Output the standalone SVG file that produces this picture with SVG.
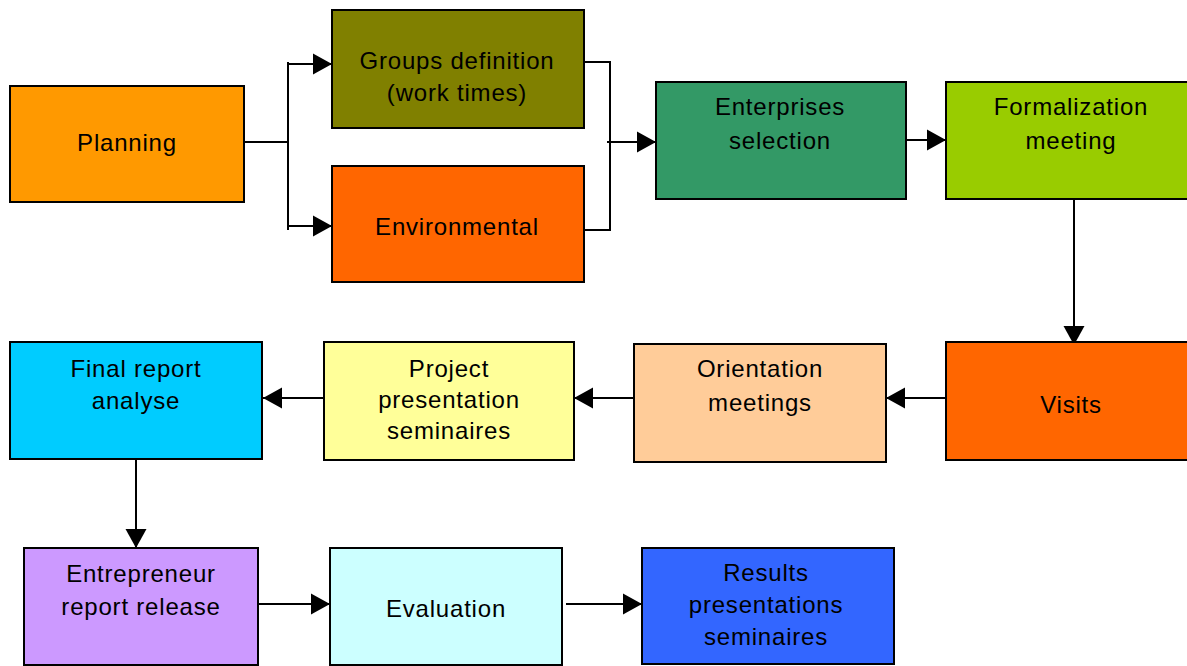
<svg xmlns="http://www.w3.org/2000/svg" width="1187" height="666" viewBox="0 0 1187 666">
  <style>
    .box { stroke: #000; stroke-width: 2; }
    .lbl { font-family: "Liberation Sans", Arial, sans-serif; font-size: 24px; letter-spacing: 0.8px; fill: #000; text-anchor: middle; }
    .wire { fill: none; stroke: #000; stroke-width: 2; }
  </style>
  <defs>
    <marker id="arrow" markerUnits="userSpaceOnUse" markerWidth="20" markerHeight="22" refX="19" refY="11" orient="auto">
      <polygon points="0,0.5 19,11 0,21.5" fill="#000"/>
    </marker>
  </defs>
  <rect width="1187" height="666" fill="#fff"/>

  <g id="connectors">
    <!-- Planning fans out to the two parallel tasks -->
    <polyline class="wire" points="240,142 288,142"/>
    <polyline class="wire" points="288,62 288,230"/>
    <line class="wire" x1="288" y1="64" x2="332" y2="64" marker-end="url(#arrow)"/>
    <line class="wire" x1="288" y1="226" x2="332" y2="226" marker-end="url(#arrow)"/>
    <!-- parallel tasks join into selection -->
    <polyline class="wire" points="584,62 610,62 610,230 584,230"/>
    <line class="wire" x1="607" y1="142" x2="656" y2="142" marker-end="url(#arrow)"/>
    <line class="wire" x1="906" y1="140" x2="946" y2="140" marker-end="url(#arrow)"/>
    <line class="wire" x1="1074" y1="193" x2="1074" y2="345" marker-end="url(#arrow)"/>
    <line class="wire" x1="946" y1="398" x2="886" y2="398" marker-end="url(#arrow)"/>
    <line class="wire" x1="634" y1="398" x2="574" y2="398" marker-end="url(#arrow)"/>
    <line class="wire" x1="324" y1="398" x2="263" y2="398" marker-end="url(#arrow)"/>
    <line class="wire" x1="136" y1="455" x2="136" y2="548" marker-end="url(#arrow)"/>
    <line class="wire" x1="254" y1="604" x2="330" y2="604" marker-end="url(#arrow)"/>
    <line class="wire" x1="566" y1="604" x2="642" y2="604" marker-end="url(#arrow)"/>
  </g>

  <g id="planning">
    <rect class="box" x="10" y="86" width="234" height="116" fill="#FF9900"/>
    <text class="lbl" x="127" y="151">Planning</text>
  </g>
  <g id="groups-definition">
    <rect class="box" x="332" y="10" width="252" height="118" fill="#808000"/>
    <text class="lbl" x="457" y="69">Groups definition</text>
    <text class="lbl" x="457" y="101">(work times)</text>
  </g>
  <g id="environmental">
    <rect class="box" x="332" y="166" width="252" height="116" fill="#FF6600"/>
    <text class="lbl" x="457" y="235">Environmental</text>
  </g>
  <g id="enterprises-selection">
    <rect class="box" x="656" y="82" width="250" height="117" fill="#339966"/>
    <text class="lbl" x="780" y="115">Enterprises</text>
    <text class="lbl" x="780" y="149">selection</text>
  </g>
  <g id="formalization-meeting">
    <rect class="box" x="946" y="82" width="245" height="117" fill="#99CC00"/>
    <text class="lbl" x="1071" y="115">Formalization</text>
    <text class="lbl" x="1071" y="149">meeting</text>
  </g>
  <g id="visits">
    <rect class="box" x="946" y="342" width="245" height="118" fill="#FF6600"/>
    <text class="lbl" x="1071" y="413">Visits</text>
  </g>
  <g id="orientation-meetings">
    <rect class="box" x="634" y="344" width="252" height="118" fill="#FFCC99"/>
    <text class="lbl" x="760" y="377">Orientation</text>
    <text class="lbl" x="760" y="411">meetings</text>
  </g>
  <g id="project-presentation">
    <rect class="box" x="324" y="342" width="250" height="118" fill="#FFFF99"/>
    <text class="lbl" x="449" y="377">Project</text>
    <text class="lbl" x="449" y="408">presentation</text>
    <text class="lbl" x="449" y="439">seminaires</text>
  </g>
  <g id="final-report">
    <rect class="box" x="10" y="342" width="252" height="117" fill="#00CCFF"/>
    <text class="lbl" x="136" y="377">Final report</text>
    <text class="lbl" x="136" y="409">analyse</text>
  </g>
  <g id="entrepreneur-report">
    <rect class="box" x="24" y="548" width="234" height="117" fill="#CC99FF"/>
    <text class="lbl" x="141" y="582">Entrepreneur</text>
    <text class="lbl" x="141" y="615">report release</text>
  </g>
  <g id="evaluation">
    <rect class="box" x="330" y="548" width="232" height="117" fill="#CCFFFF"/>
    <text class="lbl" x="446" y="617">Evaluation</text>
  </g>
  <g id="results-presentations">
    <rect class="box" x="642" y="548" width="252" height="116" fill="#3366FF"/>
    <text class="lbl" x="766" y="581">Results</text>
    <text class="lbl" x="766" y="613">presentations</text>
    <text class="lbl" x="766" y="645">seminaires</text>
  </g>
</svg>
